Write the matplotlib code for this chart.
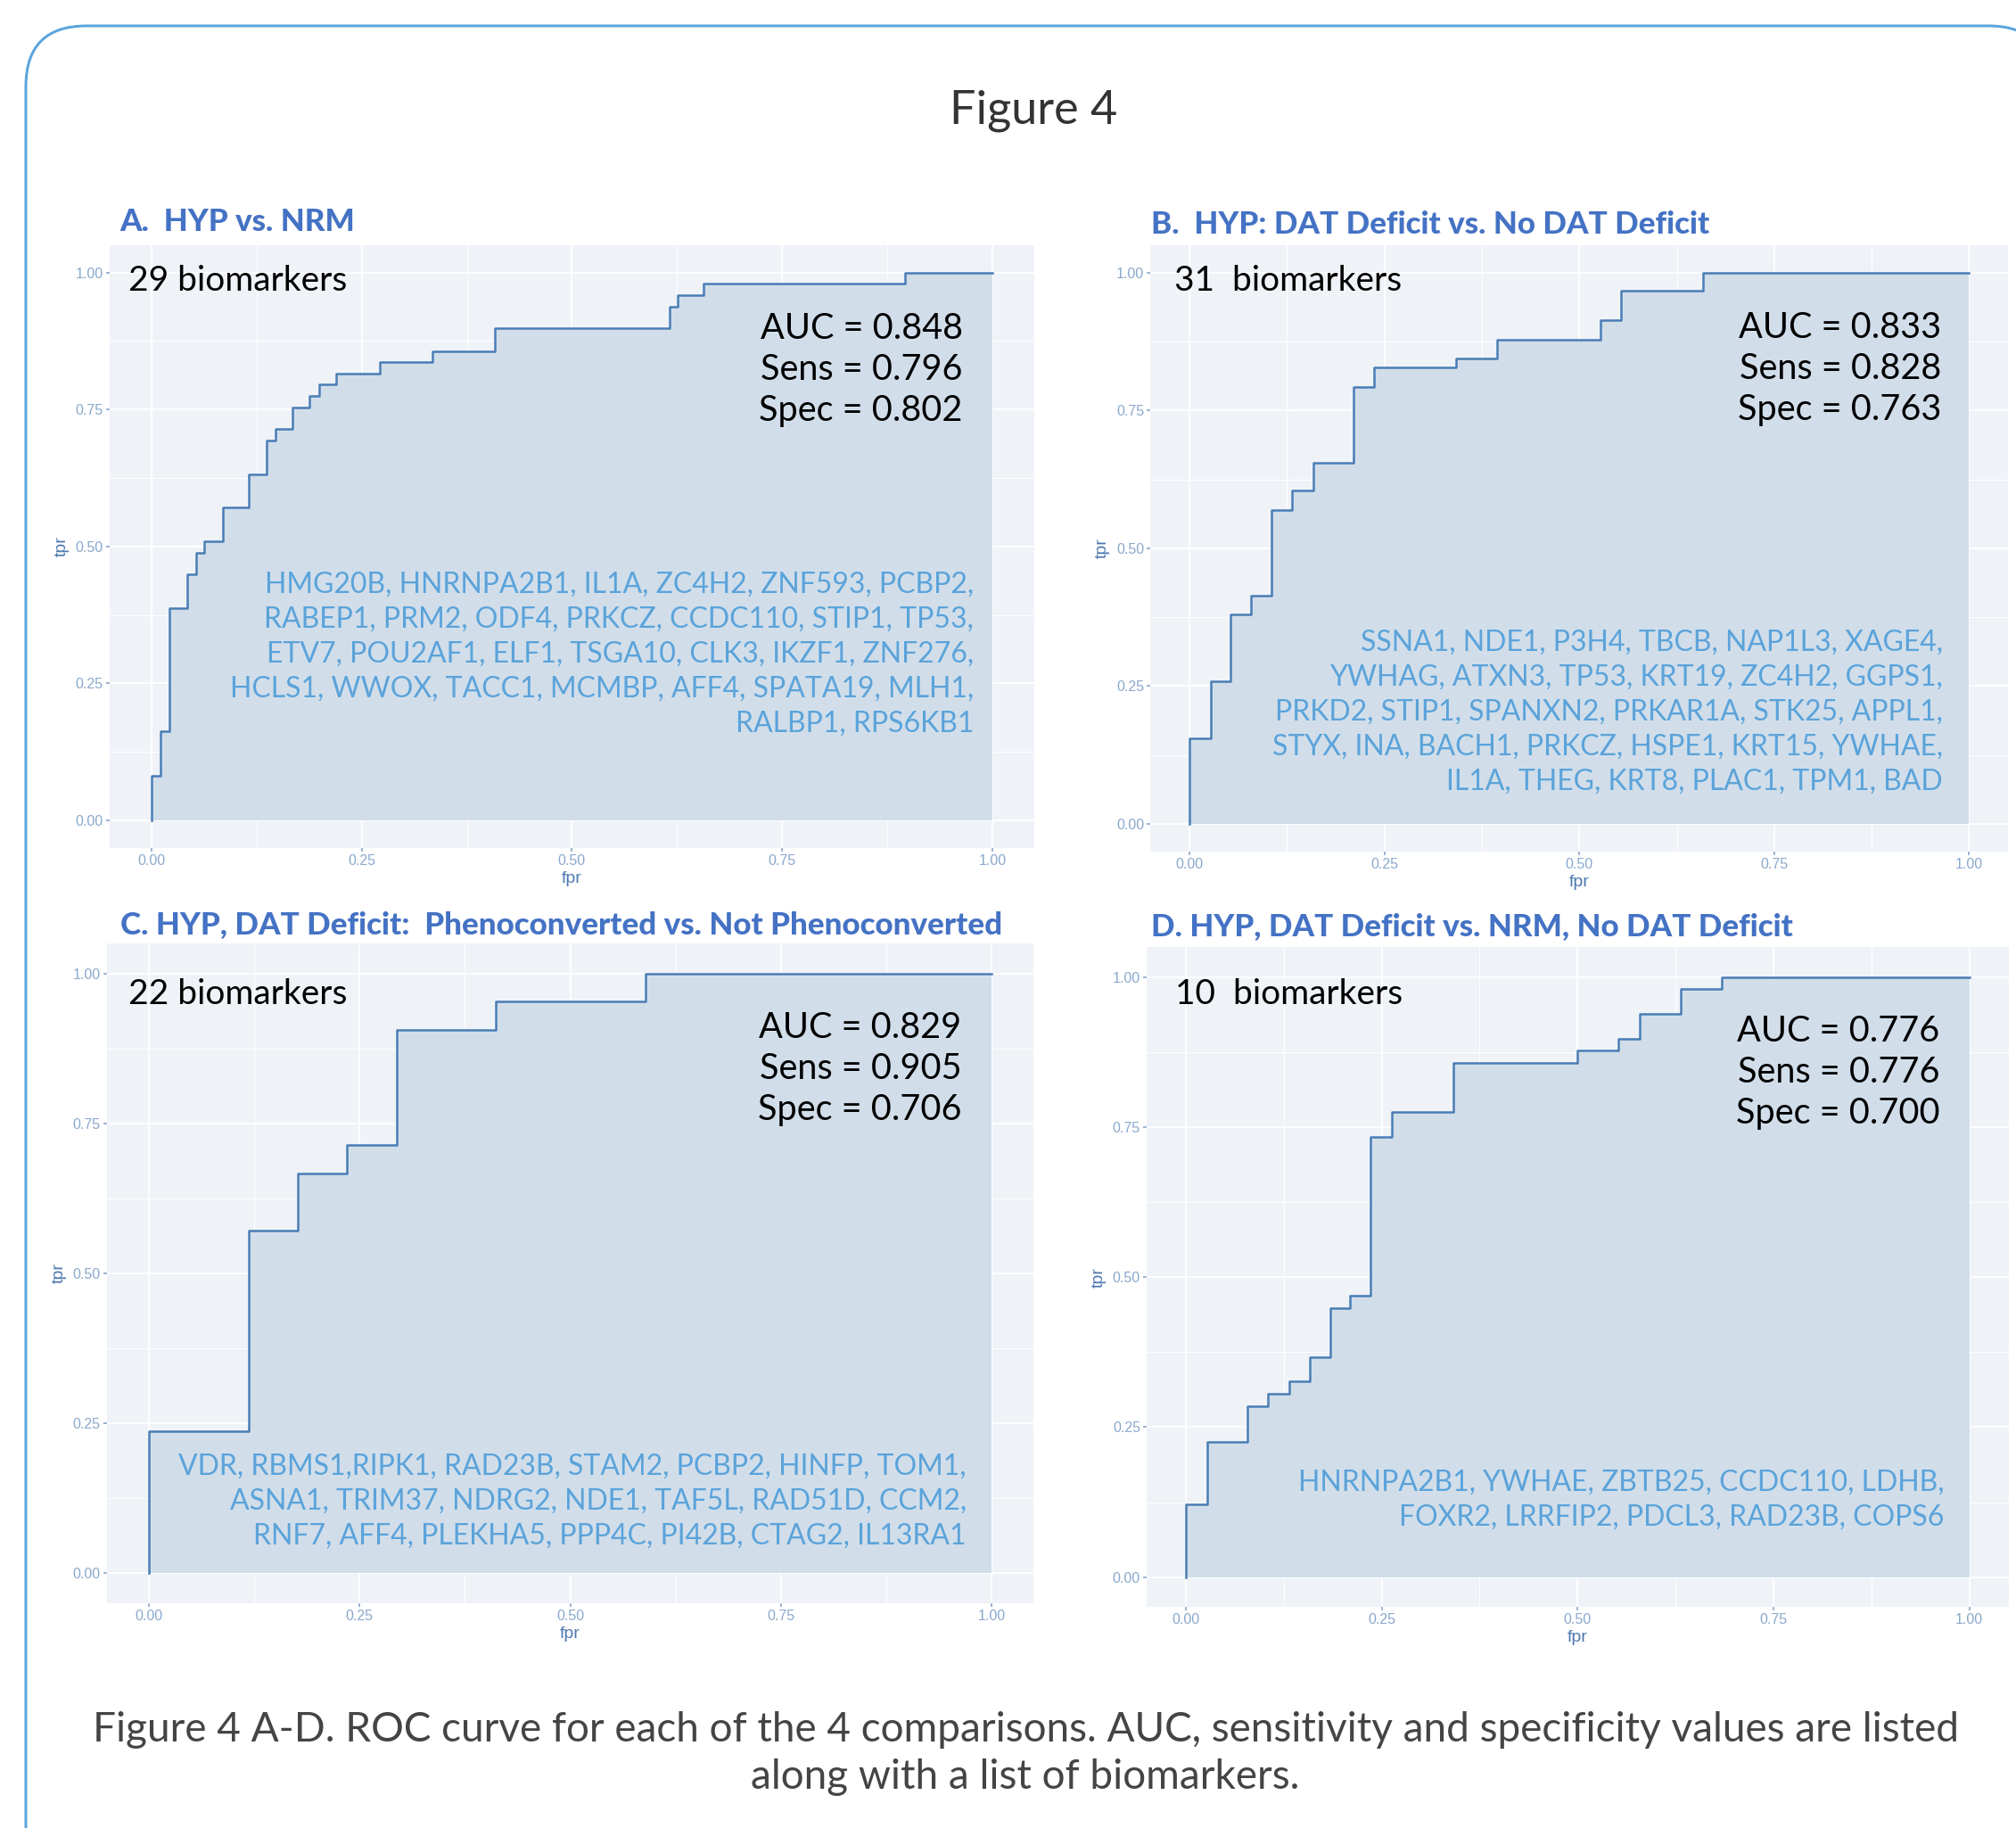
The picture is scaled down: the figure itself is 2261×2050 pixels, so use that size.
import matplotlib
matplotlib.use('Agg')
import matplotlib.pyplot as plt
from matplotlib.patches import FancyBboxPatch

W, H, DPI = 2261, 2050, 100

# ---------------- data ----------------
A_fpr = [0, 0, 0.011, 0.0215, 0.042, 0.053, 0.063, 0.085, 0.116, 0.1365, 0.147, 0.168, 0.188,
         0.199, 0.2196, 0.2715, 0.334, 0.408, 0.616, 0.626, 0.657, 0.896, 1.0]
A_tpr = [0, 0.081, 0.163, 0.387, 0.449, 0.489, 0.509, 0.571, 0.632, 0.693, 0.714, 0.754, 0.775,
         0.796, 0.815, 0.836, 0.856, 0.898, 0.938, 0.959, 0.979, 1.0, 1.0]

B_fpr = [0, 0, 0.027, 0.0526, 0.079, 0.105, 0.1315, 0.1585, 0.210, 0.237, 0.342, 0.395, 0.527,
         0.554, 0.659, 1.0]
B_tpr = [0, 0.156, 0.259, 0.380, 0.414, 0.569, 0.605, 0.656, 0.793, 0.828, 0.845, 0.879, 0.915,
         0.967, 1.0, 1.0]

C_fpr = [0, 0, 0.118, 0.1767, 0.235, 0.294, 0.412, 0.589, 1.0]
C_tpr = [0, 0.2364, 0.571, 0.667, 0.714, 0.906, 0.953, 1.0, 1.0]

D_fpr = [0, 0, 0.027, 0.0785, 0.105, 0.1316, 0.158, 0.184, 0.210, 0.236, 0.263, 0.342, 0.4996,
         0.552, 0.579, 0.632, 0.684, 1.0]
D_tpr = [0, 0.122, 0.225, 0.285, 0.306, 0.327, 0.367, 0.449, 0.469, 0.734, 0.776, 0.857, 0.878,
         0.898, 0.939, 0.980, 1.0, 1.0]

titles = ["A.  HYP vs. NRM",
          "B.  HYP: DAT Deficit vs. No DAT Deficit",
          "C. HYP, DAT Deficit:  Phenoconverted vs. Not Phenoconverted",
          "D. HYP, DAT Deficit vs. NRM, No DAT Deficit"]
biomarker_labels = ["29 biomarkers", "31  biomarkers", "22 biomarkers", "10  biomarkers"]
auc = ["0.848", "0.833", "0.829", "0.776"]
sens = ["0.796", "0.828", "0.905", "0.776"]
spec = ["0.802", "0.763", "0.706", "0.700"]

genes_A = ["HMG20B, HNRNPA2B1, IL1A, ZC4H2, ZNF593, PCBP2,",
           "RABEP1, PRM2, ODF4, PRKCZ, CCDC110, STIP1, TP53,",
           "ETV7, POU2AF1, ELF1, TSGA10, CLK3, IKZF1, ZNF276,",
           "HCLS1, WWOX, TACC1, MCMBP, AFF4, SPATA19, MLH1,",
           "RALBP1, RPS6KB1"]
genes_B = ["SSNA1, NDE1, P3H4, TBCB, NAP1L3, XAGE4,",
           "YWHAG, ATXN3, TP53, KRT19, ZC4H2, GGPS1,",
           "PRKD2, STIP1, SPANXN2, PRKAR1A, STK25, APPL1,",
           "STYX, INA, BACH1, PRKCZ, HSPE1, KRT15, YWHAE,",
           "IL1A, THEG, KRT8, PLAC1, TPM1, BAD"]
genes_C = ["VDR, RBMS1,RIPK1, RAD23B, STAM2, PCBP2, HINFP, TOM1,",
           "ASNA1, TRIM37, NDRG2, NDE1, TAF5L, RAD51D, CCM2,",
           "RNF7, AFF4, PLEKHA5, PPP4C, PI42B, CTAG2, IL13RA1"]
genes_D = ["HNRNPA2B1, YWHAE, ZBTB25, CCDC110, LDHB,",
           "FOXR2, LRRFIP2, PDCL3, RAD23B, COPS6"]

fig_title = "Figure 4"
caption = ["Figure 4 A-D. ROC curve for each of the 4 comparisons. AUC, sensitivity and specificity values are listed",
           "along with a list of biomarkers."]

# ---------------- layout (pixels) ----------------
boxes = [(122.8, 274.8, 1160.0, 950.7),
         (1290.3, 275.1, 2252.2, 954.9),
         (119.8, 1058.0, 1159.3, 1797.6),
         (1286.0, 1062.4, 2252.7, 1802.2)]
title_pos = [(134, 259), (1291, 262.5), (135, 1048), (1291, 1050)]
bio_pos = [(-0.0276, 0.967), (-0.0194, 0.968), (-0.0243, 0.949), (-0.0132, 0.955)]
stat_pos = [(0.965, 0.879), (0.964, 0.882), (0.964, 0.893), (0.962, 0.893)]
gene_pos = [(0.978, 0.415), (0.966, 0.314), (0.970, 0.165), (0.968, 0.1436)]
gene_lists = [genes_A, genes_B, genes_C, genes_D]
curves = [(A_fpr, A_tpr), (B_fpr, B_tpr), (C_fpr, C_tpr), (D_fpr, D_tpr)]

PX2PT = 72.0 / DPI
FONT = "Lato"
bg_col = "#EFF3F8"
fill_col = "#D1DEEA"
line_col = "#4A7DB5"
tick_col = "#8AA8CC"
lab_col = "#4E79B0"
title_col = "#4472C4"
gene_col = "#5BA3DA"

fig = plt.figure(figsize=(W / DPI, H / DPI), dpi=DPI)
fig.patch.set_facecolor("white")

bgax = fig.add_axes([0, 0, 1, 1], zorder=-5)
bgax.set_xlim(0, W)
bgax.set_ylim(H, 0)
bgax.axis("off")
frame = FancyBboxPatch((29, 29), 2298 - 29, 2400 - 29,
                       boxstyle="round,pad=0,rounding_size=68",
                       fill=False, ec="#5BA4DC", lw=3 * PX2PT, clip_on=True)
bgax.add_patch(frame)

fig.text(1159 / W, 1 - 138 / H, fig_title, family=FONT, fontsize=37.5, color="#333333",
         ha="center", va="baseline")
cap_base = [1953, 2006]
for line, yb in zip(caption, cap_base):
    fig.text(1150 / W, 1 - yb / H, line, family=FONT, fontsize=33, color="#444444",
             ha="center", va="baseline")

ticks = [0, 0.25, 0.5, 0.75, 1.0]
ticklabels = ["0.00", "0.25", "0.50", "0.75", "1.00"]
minors = [0.125, 0.375, 0.625, 0.875]

for i, (l, t, r, b) in enumerate(boxes):
    ax = fig.add_axes([l / W, 1 - b / H, (r - l) / W, (b - t) / H])
    ax.set_facecolor(bg_col)
    for s in ax.spines.values():
        s.set_visible(False)
    ax.set_xlim(-0.05, 1.05)
    ax.set_ylim(-0.05, 1.05)
    ax.set_xticks(ticks)
    ax.set_xticklabels(ticklabels)
    ax.set_yticks(ticks)
    ax.set_yticklabels(ticklabels)
    ax.set_xticks(minors, minor=True)
    ax.set_yticks(minors, minor=True)
    ax.grid(True, which="major", color="white", lw=1.3)
    ax.grid(True, which="minor", color="white", lw=0.7)
    ax.set_axisbelow(True)
    ax.tick_params(which="major", length=4 * PX2PT, width=1.2, color=tick_col,
                   labelcolor=tick_col, labelsize=11.5, pad=3 * PX2PT)
    ax.tick_params(which="minor", length=0)
    for lab in ax.get_xticklabels() + ax.get_yticklabels():
        lab.set_family("Liberation Sans")
    ax.set_xlabel("fpr", family="Liberation Sans", fontsize=14, color=lab_col, labelpad=3)
    ax.set_ylabel("tpr", family="Liberation Sans", fontsize=14, color=lab_col, labelpad=5)

    fpr, tpr = curves[i]
    ax.fill_between(fpr, tpr, 0, step="post", color=fill_col, lw=0, zorder=2)
    ax.plot(fpr, tpr, drawstyle="steps-post", color=line_col, lw=1.8, zorder=3)

    bx, by = bio_pos[i]
    ax.text(bx, by, biomarker_labels[i], family=FONT, fontsize=28, color="black",
            ha="left", va="baseline", zorder=5)
    sx, sy = stat_pos[i]
    stats = ["AUC = " + auc[i], "Sens = " + sens[i], "Spec = " + spec[i]]
    for k, s in enumerate(stats):
        ax.annotate(s, (sx, sy), xytext=(0, -k * 46.2 * PX2PT), textcoords="offset points",
                    family=FONT, fontsize=28.5, color="black", ha="right", va="baseline", zorder=5)
    gx, gy = gene_pos[i]
    for k, s in enumerate(gene_lists[i]):
        ax.annotate(s, (gx, gy), xytext=(0, -k * 39 * PX2PT), textcoords="offset points",
                    family=FONT, fontsize=23, color=gene_col, ha="right", va="baseline", zorder=5)

    tx, ty = title_pos[i]
    fig.text(tx / W, 1 - ty / H, titles[i], family=FONT, fontweight="black", fontsize=25.2,
             color=title_col, ha="left", va="baseline")

fig.savefig("out.png", dpi=DPI)
